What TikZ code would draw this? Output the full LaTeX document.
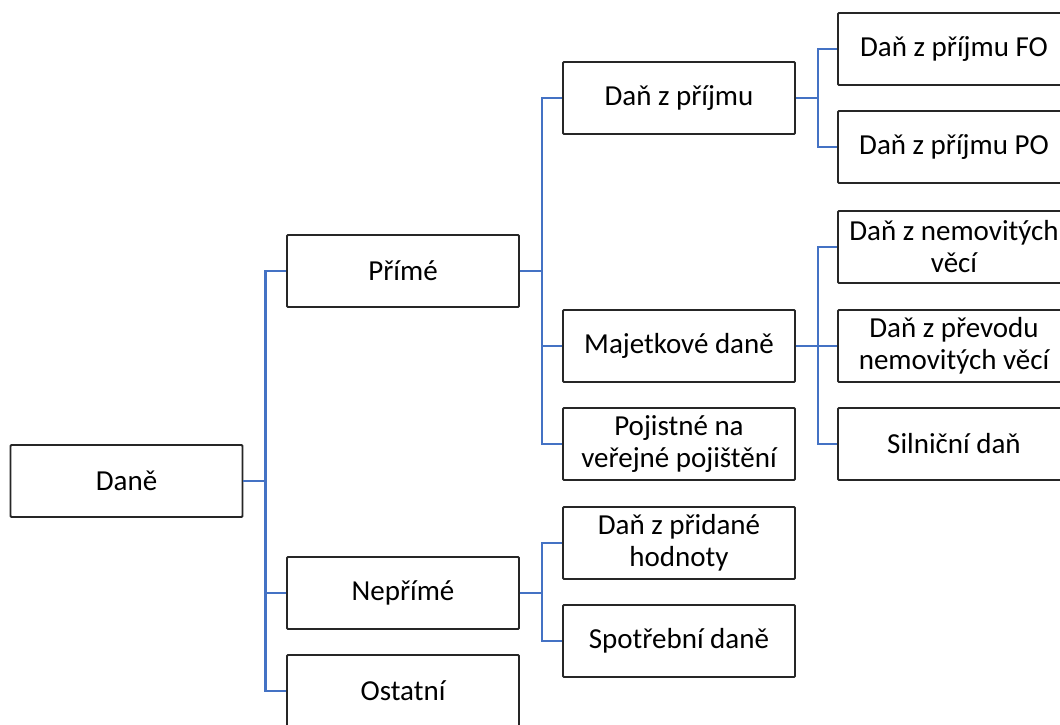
\documentclass[tikz,border=0pt]{standalone}
\usepackage{fontspec}
\setmainfont{Carlito}
\definecolor{linkblue}{HTML}{4472C4}
\definecolor{boxgray}{HTML}{262626}
\begin{document}
\begin{tikzpicture}[x=1pt,y=-1pt,
  box/.style={draw=boxgray,line width=1.8pt,rounded corners=1pt,fill=white,
    minimum width=232pt,minimum height=72pt,align=center,inner sep=1pt,
    font=\fontsize{29}{32}\selectfont},
  link/.style={draw=linkblue,line width=2.5pt}]
\useasboundingbox (0,0) rectangle (1060,724);
\clip (0,0) rectangle (1060,724);
% level 0
\node[box] (dane) at (126.5,481) {Daně};
% level 1
\node[box] (prime) at (403,271) {Přímé};
\node[box] (neprime) at (403,593) {Nepřímé};
\node[box] (ostatni) at (403,691) {Ostatní};
% level 2
\node[box] (dzp) at (679,98) {Daň z příjmu};
\node[box] (majet) at (679,346) {Majetkové daně};
\node[box] (pojist) at (679,444) {Pojistné na\\veřejné pojištění};
\node[box] (dph) at (679,543) {Daň z přidané\\hodnoty};
\node[box] (spotr) at (679,641) {Spotřební daně};
% level 3
\node[box] (fo) at (954,49) {Daň z příjmu FO};
\node[box] (po) at (954,147) {Daň z příjmu PO};
\node[box] (nemov) at (954,247) {Daň z nemovitých\\věcí};
\node[box] (prevod) at (954,346) {Daň z převodu\\nemovitých věcí};
\node[box] (silni) at (954,444) {Silniční daň};
% connectors
\foreach \p/\c in {dane/prime,dane/neprime,dane/ostatni,
                   prime/dzp,prime/majet,prime/pojist,
                   neprime/dph,neprime/spotr,
                   dzp/fo,dzp/po,
                   majet/nemov,majet/prevod,majet/silni}{
  \draw[link] (\p.east) -- ([xshift=22pt]\p.east) |- (\c.west);
}
\end{tikzpicture}
\end{document}
